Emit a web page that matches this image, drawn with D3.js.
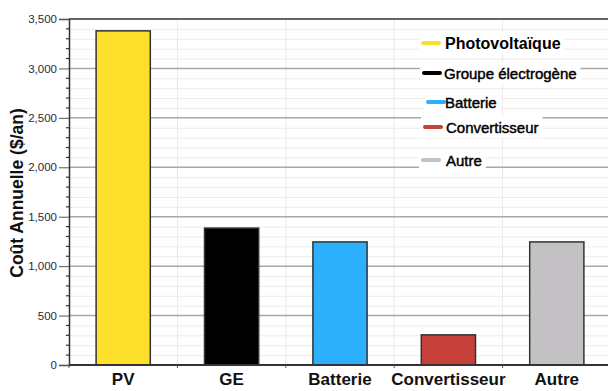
<!DOCTYPE html>
<html>
<head>
<meta charset="utf-8">
<script src="https://cdn.jsdelivr.net/npm/d3@7"></script>
<style>
  html, body { margin: 0; padding: 0; background: #fff; }
  svg { display: block; }
  text { font-family: "Liberation Sans", Arial, sans-serif; }
</style>
</head>
<body>
<svg id="chart" width="608" height="391"></svg>
<script>
const categories = ["PV", "GE", "Batterie", "Convertisseur", "Autre"];
const values = [3380, 1385, 1245, 305, 1245];
const colors = ["#fde02b", "#000000", "#2cb0fc", "#c8403a", "#c3c1c4"];
const legendLabels = ["Photovoltaïque", "Groupe électrogène", "Batterie", "Convertisseur", "Autre"];
const yTicks = [0, 500, 1000, 1500, 2000, 2500, 3000, 3500];
const yTitle = "Coût Annuelle ($/an)";

const svg = d3.select("#chart");
const margin = { left: 69, right: -3, top: 19, bottom: 26 };
const W = 608, H = 391;
const x0 = margin.left, x1 = W - margin.right;
const yTop = margin.top, yBot = H - margin.bottom;

const x = d3.scaleBand().domain(categories).range([x0, x1]).paddingInner(0.5).paddingOuter(0.25);
const y = d3.scaleLinear().domain([0, 3500]).range([yBot, yTop]);

// minor horizontal gridlines
const minor = d3.range(100, 3500, 100).filter(v => v % 500 !== 0);
svg.append("g").selectAll("line").data(minor).join("line")
  .attr("x1", x0).attr("x2", x1)
  .attr("y1", d => y(d) + 0.5).attr("y2", d => y(d) + 0.5)
  .attr("stroke", "#efe9ea").attr("stroke-width", 1);

// vertical gridlines at band boundaries
const step = x.step();
const boundaries = d3.range(1, categories.length).map(i => x0 + i * step);
svg.append("g").selectAll("line").data(boundaries).join("line")
  .attr("x1", d => d).attr("x2", d => d)
  .attr("y1", yTop).attr("y2", yBot)
  .attr("stroke", "#ebe8e8").attr("stroke-width", 1);

// major gridlines
svg.append("g").selectAll("line").data(yTicks.filter(v => v > 0 && v < 3500)).join("line")
  .attr("x1", x0).attr("x2", x1)
  .attr("y1", d => y(d)).attr("y2", d => y(d))
  .attr("stroke", "#a8a8a8").attr("stroke-width", 1.5);

// bars
svg.append("g").selectAll("rect").data(categories).join("rect")
  .attr("x", d => x(d))
  .attr("width", x.bandwidth())
  .attr("y", (d, i) => y(values[i]))
  .attr("height", (d, i) => y(0) - y(values[i]))
  .attr("fill", (d, i) => colors[i])
  .attr("stroke", "#333").attr("stroke-width", 1.5);

// frame top
svg.append("line").attr("x1", x0).attr("x2", x1).attr("y1", yTop).attr("y2", yTop)
  .attr("stroke", "#333").attr("stroke-width", 1.5);

// Y axis
const yAxis = d3.axisLeft(y).tickValues(yTicks).tickSize(10).tickPadding(2)
  .tickFormat(d3.format(","));
const gy = svg.append("g").attr("transform", `translate(${x0},0)`).call(yAxis);
gy.select(".domain").attr("stroke", "#333").attr("stroke-width", 1.5);
gy.selectAll(".tick line").attr("stroke", "#555");
gy.selectAll(".tick text").attr("fill", "#2a2a3a").style("font-size", "11.5px")
  .style("font-family", "'Liberation Sans', Arial, sans-serif");
// minor ticks
svg.append("g").selectAll("line").data(minor).join("line")
  .attr("x1", x0 - 3).attr("x2", x0)
  .attr("y1", d => y(d)).attr("y2", d => y(d))
  .attr("stroke", "#333").attr("stroke-width", 1.2);

// X axis
const gx = svg.append("g").attr("transform", `translate(0,${yBot})`);
gx.append("line").attr("x1", x0).attr("x2", x1).attr("y1", 0).attr("y2", 0)
  .attr("stroke", "#333").attr("stroke-width", 2);
gx.selectAll("line.tk").data([x0].concat(boundaries)).join("line").attr("class", "tk")
  .attr("x1", d => d).attr("x2", d => d).attr("y1", 0).attr("y2", 3)
  .attr("stroke", "#555");
gx.selectAll("text").data(categories).join("text")
  .attr("x", d => x(d) + x.bandwidth() / 2)
  .attr("y", 20)
  .attr("text-anchor", "middle")
  .attr("fill", "#111")
  .style("font-size", "17px").style("font-weight", "bold")
  .text(d => d);

// Y title
svg.append("text")
  .attr("transform", `translate(23,${(yTop + yBot) / 2 + 1}) rotate(-90)`)
  .attr("text-anchor", "middle")
  .attr("fill", "#111")
  .style("font-size", "17.5px").style("font-weight", "bold")
  .text(yTitle);

// Legend
const legendY = [43, 73, 102, 127, 160];
const legendSwatchX = [423, 424, 428, 425, 423];
const legendTextX = [445, 444, 445, 446, 446];
const lg = svg.append("g");
legendLabels.forEach((lab, i) => {
  const g = lg.append("g");
  const bg = g.append("rect").attr("fill", "#fff");
  g.append("line")
    .attr("x1", legendSwatchX[i]).attr("x2", legendSwatchX[i] + 16)
    .attr("y1", legendY[i]).attr("y2", legendY[i])
    .attr("stroke", colors[i]).attr("stroke-width", 4).attr("stroke-linecap", "round");
  const t = g.append("text")
    .attr("x", legendTextX[i]).attr("y", legendY[i] + 5.5)
    .attr("fill", "#000")
    .style("font-size", i === 0 ? "16px" : "15px")
    .style("font-weight", i === 0 ? "bold" : "normal")
    .attr("stroke", i === 0 ? "none" : "#000").attr("stroke-width", 0.45)
    .text(lab);
  const bb = t.node().getBBox();
  bg.attr("x", legendSwatchX[i] - 4).attr("y", legendY[i] - 11)
    .attr("width", bb.x + bb.width - legendSwatchX[i] + 8).attr("height", 22);
});
</script>
</body>
</html>
